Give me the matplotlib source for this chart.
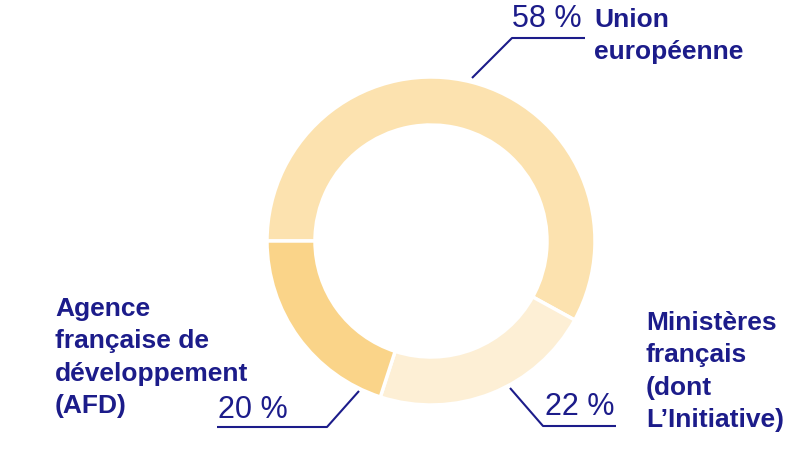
import matplotlib.pyplot as plt

# données
labels = [["Union", "européenne"],
          ["Ministères", "français", "(dont", "L\u2019Initiative)"],
          ["Agence", "française de", "développement", "(AFD)"]]
shares = [58, 22, 20]
pct_text = ["58 %", "22 %", "20 %"]
colors = ["#FCE2AF", "#FDEFD5", "#FAD489"]
navy = "#1C1C8A"

W, H = 792, 450
fig = plt.figure(figsize=(W / 100, H / 100), dpi=100)
ax = fig.add_axes([0, 0, 1, 1])
ax.axis("off")

def Y(y):
    # coordonnées image -> coordonnées données
    return H - y

ax.pie(shares, colors=colors, startangle=180, counterclock=False,
       center=(431, Y(241)), radius=164,
       wedgeprops=dict(width=48, edgecolor="white", linewidth=2.5))
ax.set_xlim(0, W)
ax.set_ylim(0, H)
ax.set_aspect("equal")

# lignes de rappel
leaders = [
    [(472, 78), (512, 38), (585, 38)],
    [(510, 388), (543, 426), (616, 426)],
    [(359, 391), (327, 427), (217, 427)],
]
for pts in leaders:
    ax.plot([p[0] for p in pts], [Y(p[1]) for p in pts], color=navy, lw=1.5,
            solid_capstyle="butt")

font = "Liberation Sans"
pct_pos = [(512, 27), (545, 415), (218, 418)]
for (x, y), t in zip(pct_pos, pct_text):
    ax.text(x, Y(y), t, ha="left", va="baseline", fontsize=22, color=navy,
            family=font)

# une ligne de texte à la fois (ligne de base de la première + pas de 32 px)
lab_pos = [(594, 27), (646, 330), (55, 316)]
for (x, y), lines in zip(lab_pos, labels):
    for i, line in enumerate(lines):
        ax.text(x, Y(y + i * 32.3), line, ha="left", va="baseline", fontsize=19,
                fontweight="bold", color=navy, family=font)

fig.savefig("out.png", dpi=100)
